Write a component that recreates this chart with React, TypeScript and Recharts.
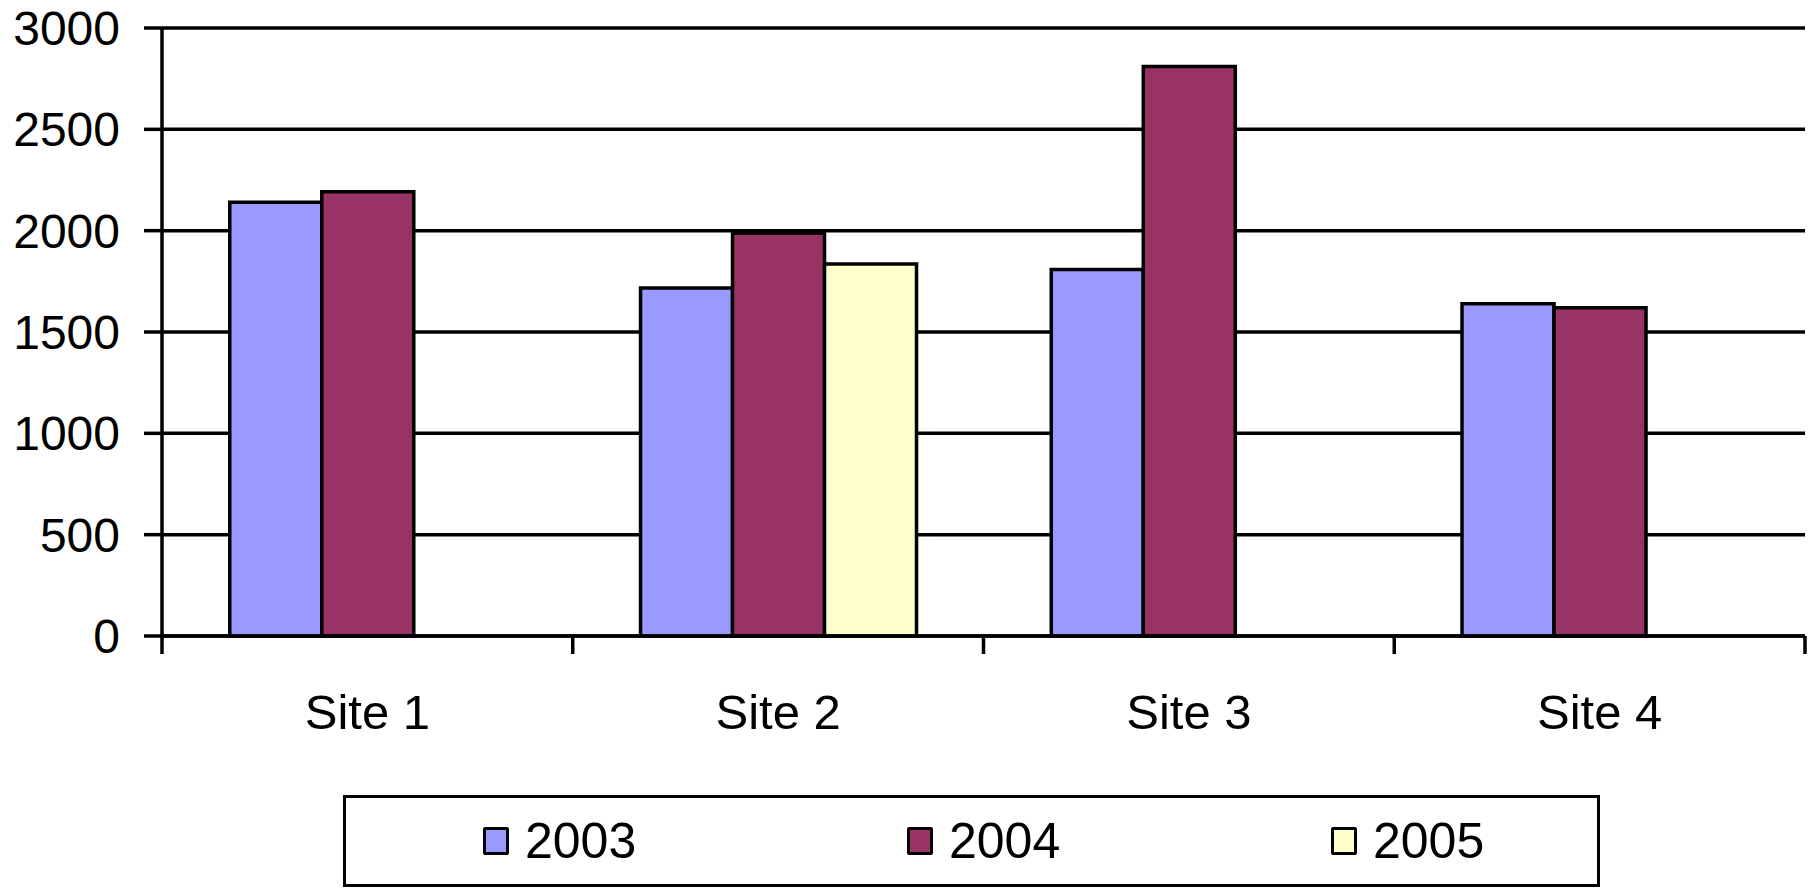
import React from 'react';
import { BarChart, Bar, XAxis, YAxis, CartesianGrid, Legend } from 'recharts';

const categories = ['Site 1', 'Site 2', 'Site 3', 'Site 4'];
const values2003 = [2140, 1717, 1808, 1640];
const values2004 = [2192, 1987, 2810, 1620];
const values2005 = [null, 1835, null, null];
const yTicks = [0, 500, 1000, 1500, 2000, 2500, 3000];

const DATA = categories.map((site, i) => ({
  site,
  y2003: values2003[i],
  y2004: values2004[i],
  y2005: values2005[i],
}));

const FONT = '"Liberation Sans", Arial, sans-serif';
const CHART_W = 1811;
const CHART_H = 888;
const Y_AXIS_W = 162;
const RIGHT = 6;
const PLOT_W = CHART_W - Y_AXIS_W - RIGHT;
const BAND = PLOT_W / categories.length;
const LINE_W = 3.5;

// Excel style: tick marks sit between categories, label in the middle
const SiteTick = (props: any) => {
  const { x, y, payload, index } = props;
  const left = x - BAND / 2;
  return (
    <g>
      <line x1={left} y1={y} x2={left} y2={y + 18} stroke="#000" strokeWidth={LINE_W} />
      {index === categories.length - 1 && (
        <line x1={x + BAND / 2} y1={y} x2={x + BAND / 2} y2={y + 18} stroke="#000" strokeWidth={LINE_W} />
      )}
      <text x={x} y={y + 93} textAnchor="middle" fontSize={49} fontFamily={FONT} fill="#000">
        {payload.value}
      </text>
    </g>
  );
};

const LegendBox = (props: any) => {
  const { payload } = props;
  return (
    <div
      style={{
        boxSizing: 'border-box',
        width: 1257,
        height: 92,
        border: '3px solid #000',
        display: 'flex',
        alignItems: 'center',
        paddingLeft: 137,
        fontFamily: FONT,
        overflow: 'hidden',
      }}
    >
      {payload.map((entry: any) => (
        <div
          key={entry.value}
          style={{ width: 424, flexShrink: 0, display: 'flex', alignItems: 'center' }}
        >
          <div
            style={{
              boxSizing: 'border-box',
              width: 26,
              height: 28,
              background: entry.color,
              border: '3px solid #000',
              borderRadius: 2,
              marginRight: 16,
            }}
          />
          <span style={{ fontSize: 50, color: '#000', lineHeight: 1 }}>{entry.value}</span>
        </div>
      ))}
    </div>
  );
};

const App: React.FC = () => {
  return (
    <div style={{ width: CHART_W, height: CHART_H, background: '#fff' }}>
      <style>{'body{margin:0;}'}</style>
      <BarChart
        width={CHART_W}
        height={CHART_H}
        data={DATA}
        margin={{ top: 28, right: RIGHT, left: 0, bottom: 0 }}
        barCategoryGap="16.5%"
        barGap={0}
      >
        <CartesianGrid vertical={false} stroke="#000" strokeWidth={LINE_W} />
        <XAxis
          dataKey="site"
          height={160}
          axisLine={{ stroke: '#000', strokeWidth: LINE_W }}
          tickLine={false}
          tickSize={0}
          tickMargin={0}
          tick={<SiteTick />}
          interval={0}
        />
        <YAxis
          width={Y_AXIS_W}
          domain={[0, 3000]}
          ticks={yTicks}
          interval={0}
          axisLine={{ stroke: '#000', strokeWidth: LINE_W }}
          tickLine={{ stroke: '#000', strokeWidth: LINE_W }}
          tickSize={18}
          tickMargin={24}
          tick={{ fontSize: 48, fill: '#000', fontFamily: FONT }}
        />
        <Legend
          verticalAlign="bottom"
          content={<LegendBox />}
          wrapperStyle={{ left: 343, width: 1257, bottom: 1 }}
        />
        <Bar dataKey="y2003" name="2003" fill="#9999FF" stroke="#000" strokeWidth={LINE_W} isAnimationActive={false} />
        <Bar dataKey="y2004" name="2004" fill="#993366" stroke="#000" strokeWidth={LINE_W} isAnimationActive={false} />
        <Bar dataKey="y2005" name="2005" fill="#FFFFCC" stroke="#000" strokeWidth={LINE_W} isAnimationActive={false} />
      </BarChart>
    </div>
  );
};

export default App;
